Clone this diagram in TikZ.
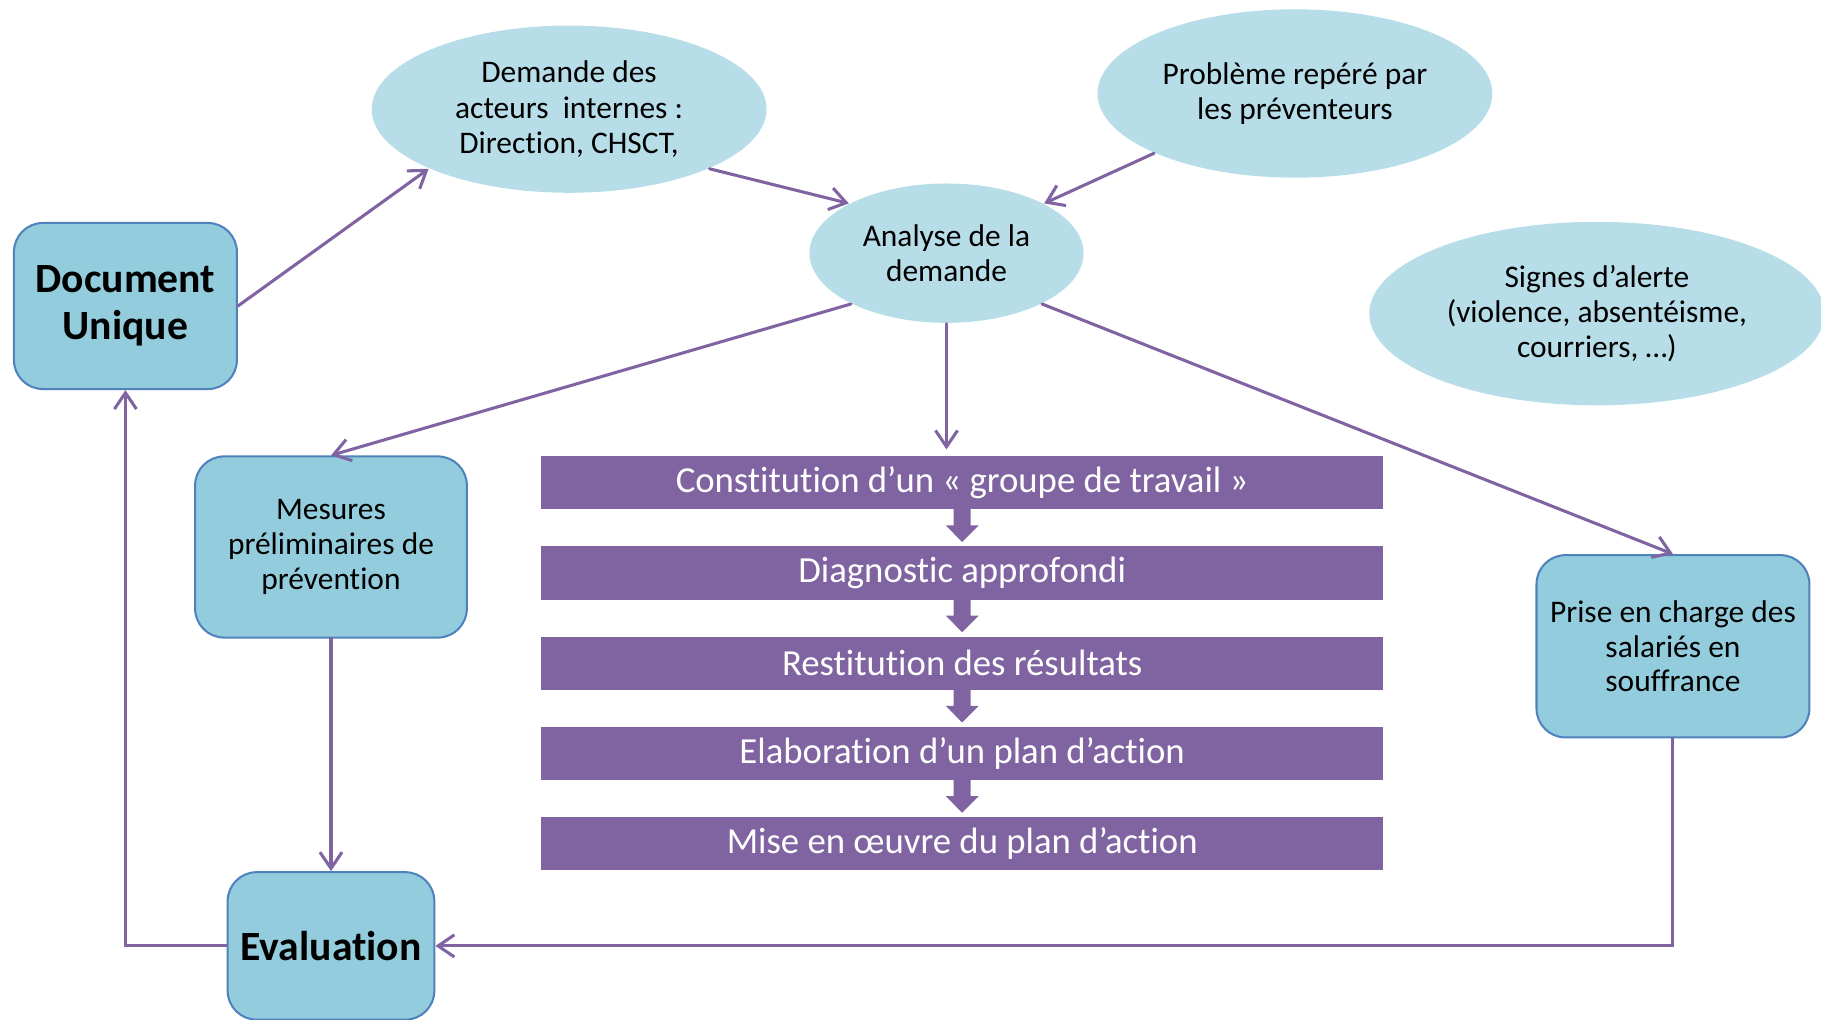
\documentclass[tikz,border=0pt]{standalone}
\usepackage{fontspec}
\setmainfont{Carlito}[Ligatures={NoCommon,NoContextual},Contextuals=NoAlternate]
\usetikzlibrary{positioning,shapes.geometric,arrows.meta}
\definecolor{boxfill}{HTML}{93CDDD}
\definecolor{boxline}{HTML}{4F81BD}
\definecolor{bubblefill}{HTML}{B7DEE8}
\definecolor{purp}{HTML}{8064A2}
\tikzset{
  bluebox/.style={draw=boxline, line width=0.5pt, fill=boxfill, rounded corners=0.25cm,
    align=center, inner sep=0pt, font=\fontsize{7.7}{8.55}\selectfont},
  bigbox/.style={bluebox, font=\fontsize{10.2}{11.4}\selectfont\bfseries},
  bubble/.style={ellipse, fill=bubblefill, align=center, inner sep=0pt,
    font=\fontsize{7.7}{8.6}\selectfont},
  stepbar/.style={fill=purp, text=white, minimum width=7.25cm, minimum height=0.46cm,
    inner sep=0pt, font=\fontsize{9}{10}\selectfont},
  conn/.style={draw=purp, line width=0.75pt, line cap=round,
    -{Straight Barb[length=1.4mm,width=1.9mm]}}
}

\begin{document}
\begin{tikzpicture}[x=1cm,y=-1cm]
\useasboundingbox (0,0) rectangle (15.68,8.78);
\clip (0,0) rectangle (15.68,8.78);
% sources and analysis
\node[bigbox, minimum width=1.92cm, minimum height=1.43cm] (doc) at (1.08,2.635) {Document\\Unique};
\node[bubble, minimum width=3.4cm, minimum height=1.44cm] (dem) at (4.90,0.94) {Demande des\\acteurs\ \ internes :\\Direction, CHSCT,};
\node[bubble, minimum width=3.4cm, minimum height=1.45cm] (prob) at (11.15,0.805) {Problème repéré par\\les préventeurs};
\node[bubble, minimum width=2.36cm, minimum height=1.2cm] (ana) at (8.15,2.18) {Analyse de la\\demande};
\node[bubble, minimum width=3.92cm, minimum height=1.58cm] (sig) at (13.75,2.70) {Signes d’alerte\\(violence, absentéisme,\\courriers, …)};
\node[bluebox, minimum width=2.34cm, minimum height=1.56cm] (mes) at (2.85,4.71) {Mesures\\préliminaires de\\prévention};
\node[bluebox, minimum width=2.35cm, minimum height=1.57cm] (prise) at (14.405,5.565) {Prise en charge des\\salariés en\\souffrance};
\node[bigbox, minimum width=1.78cm, minimum height=1.27cm] (eval) at (2.85,8.145) {Evaluation};
% steps
\node[stepbar] (b1) at (8.285,4.157) {Constitution d’un « groupe de travail »};
\node[stepbar, below=0.303cm of b1] (b2) {Diagnostic approfondi};
\node[stepbar, below=0.303cm of b2] (b3) {Restitution des résultats};
\node[stepbar, below=0.303cm of b3] (b4) {Elaboration d’un plan d’action};
\node[stepbar, below=0.303cm of b4] (b5) {Mise en œuvre du plan d’action};
\foreach \a/\b in {b1/b2,b2/b3,b3/b4,b4/b5}
  \fill[purp] ([xshift=-0.073cm,yshift=0.01cm]\a.south) -- ([xshift=-0.073cm,yshift=-0.13cm]\a.south)
    -- ([xshift=-0.142cm,yshift=-0.13cm]\a.south) -- ([yshift=0.03cm]\b.north)
    -- ([xshift=0.142cm,yshift=-0.13cm]\a.south) -- ([xshift=0.073cm,yshift=-0.13cm]\a.south)
    -- ([xshift=0.073cm,yshift=0.01cm]\a.south) -- cycle;
% connectors
\draw[conn] (doc.east) -- (dem.203);
\draw[conn] (dem.337) -- (ana.153);
\draw[conn] (prob.203) -- (ana.27);
\draw[conn] (ana.208) -- (mes.north);
\draw[conn, shorten >=0.05cm] (ana.south) -- (ana.south |- b1.north);
\draw[conn] (ana.332) -- (prise.north);
\draw[conn] (mes.south) -- (eval.north);
\draw[conn] (prise.south) |- (eval.east);
\draw[conn] (eval.west) -| (doc.south);
\end{tikzpicture}
\end{document}
